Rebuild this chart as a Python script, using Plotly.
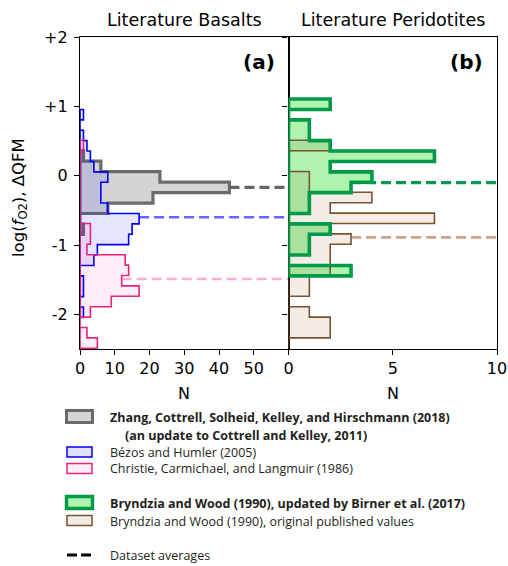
import numpy as np
import plotly.graph_objects as go

# ---------------------------------------------------------------------------
# Histogram data: log(fO2) relative to QFM.  Counts are listed from the
# highest bin downwards; each series is described by its top bin edge,
# its bin width and its counts.
# ---------------------------------------------------------------------------
zhang_top = 0.36
zhang_bin = 0.151
zhang_counts = [1, 6, 23, 43, 21, 8, 0, 1]

bezos_top = 0.955
bezos_bin = 0.15
bezos_counts = [1, 0, 1, 2, 3, 4, 8, 6, 6, 8, 17, 15, 14, 5, 4, 0, 1, 1, 0, 1]

christie_top = 0.51
christie_bin = 0.15
christie_counts = [1, 0, 0, 0, 0, 0, 0, 0, 3, 3, 2, 13, 14, 12, 17, 9, 3, 0, 2, 5]

birner_top = 1.105
birner_bin = 0.15
birner_counts = [2, 0, 1, 1, 2, 7, 2, 4, 3, 1, 1, 0, 2, 1, 1, 0, 3]

bw_top = 0.51
bw_bin = 0.15
bw_counts = [2, 0, 0, 1, 1, 4, 2, 7, 2, 3, 2, 2, 2, 1, 1, 0, 1, 2, 2, 0]

# dataset averages
zhang_mean = -0.17
bezos_mean = -0.60
christie_mean = -1.49
birner_mean = -0.10
bw_mean = -0.89

y_ticks = [-2, -1, 0, 1, 2]
y_tick_labels = ["-2", "-1", "0", "+1", "+2"]
xa_ticks = [0, 10, 20, 30, 40, 50]
xb_ticks = [0, 5, 10]

panel_titles = ["Literature Basalts", "Literature Peridotites"]
panel_tags = ["(a)", "(b)"]

legend_labels = [
    "<b>Zhang, Cottrell, Solheid, Kelley, and Hirschmann (2018)</b>",
    "<b>(an update to Cottrell and Kelley, 2011)</b>",
    "Bézos and Humler (2005)",
    "Christie, Carmichael, and Langmuir (1986)",
    "<b>Bryndzia and Wood (1990), updated by Birner et al. (2017)</b>",
    "Bryndzia and Wood (1990), original published values",
    "Dataset averages",
]

# ---------------------------------------------------------------------------
# styling
# ---------------------------------------------------------------------------
W, H = 508, 566
L, R, T, B = 80, 497, 37, 349          # plot area in pixels
AX_FONT = "DejaVu Sans"
LEG_FONT = "Open Sans"

C_GRAY, F_GRAY = "#6b6b6b", "#d4d4d4"
C_BLUE, F_BLUE = "#0000ff", "rgba(0,0,255,0.10)"
C_PINK, F_PINK = "#e8247a", "rgba(255,20,147,0.07)"
C_GREEN, F_GREEN = "#009a48", "rgba(144,238,144,0.72)"
C_BROWN, F_BROWN = "#7a5230", "rgba(139,69,19,0.10)"


def step_outline(top, width, counts):
    """Closed step outline of a horizontal histogram."""
    edges = top - width * np.arange(len(counts) + 1)
    xs, ys = [0.0], [edges[0]]
    for i, c in enumerate(counts):
        xs += [c, c]
        ys += [edges[i], edges[i + 1]]
    xs += [0.0, 0.0]
    ys += [edges[-1], edges[0]]
    return xs, ys


def count_at(top, width, counts, value):
    idx = int((top - value) // width)
    return counts[idx]


def hist_trace(top, width, counts, line_color, fill_color, lw, xa, ya,
               fill=True, line=True):
    xs, ys = step_outline(top, width, counts)
    return go.Scatter(
        x=xs, y=ys, mode="lines", xaxis=xa, yaxis=ya,
        fill="toself" if fill else "none",
        fillcolor=fill_color if fill else None,
        line=dict(color=line_color if line else "rgba(0,0,0,0)",
                  width=lw if line else 0),
        hoverinfo="skip", showlegend=False,
    )


def mean_trace(top, width, counts, mean, xmax, color, lw, xa, ya):
    x0 = count_at(top, width, counts, mean)
    return go.Scatter(
        x=[x0, xmax], y=[mean, mean], mode="lines", xaxis=xa, yaxis=ya,
        line=dict(color=color, width=lw, dash="10px,5px"),
        hoverinfo="skip", showlegend=False,
    )


XA_MAX, XB_MAX = 60, 10

fig = go.Figure()

# panel (a): literature basalts
fig.add_trace(hist_trace(zhang_top, zhang_bin, zhang_counts, C_GRAY, F_GRAY, 3.2, "x", "y"))
fig.add_trace(hist_trace(bezos_top, bezos_bin, bezos_counts, C_BLUE, F_BLUE, 1.6, "x", "y"))
fig.add_trace(hist_trace(christie_top, christie_bin, christie_counts, C_PINK, F_PINK, 1.6, "x", "y"))
fig.add_trace(mean_trace(zhang_top, zhang_bin, zhang_counts, zhang_mean, XA_MAX, "#666666", 3.2, "x", "y"))
fig.add_trace(mean_trace(bezos_top, bezos_bin, bezos_counts, bezos_mean, XA_MAX, "rgba(0,0,255,0.6)", 2.6, "x", "y"))
fig.add_trace(mean_trace(christie_top, christie_bin, christie_counts, christie_mean, XA_MAX, "rgba(255,105,180,0.55)", 2.6, "x", "y"))

# panel (b): literature peridotites
fig.add_trace(hist_trace(birner_top, birner_bin, birner_counts, C_GREEN, F_GREEN, 3.6, "x2", "y2", line=False))
fig.add_trace(hist_trace(bw_top, bw_bin, bw_counts, C_BROWN, F_BROWN, 1.6, "x2", "y2"))
fig.add_trace(hist_trace(birner_top, birner_bin, birner_counts, C_GREEN, F_GREEN, 3.6, "x2", "y2", fill=False))
fig.add_trace(mean_trace(birner_top, birner_bin, birner_counts, birner_mean, XB_MAX, C_GREEN, 3.2, "x2", "y2"))
fig.add_trace(mean_trace(bw_top, bw_bin, bw_counts, bw_mean, XB_MAX, "rgba(170,100,60,0.6)", 2.6, "x2", "y2"))

axis_common = dict(
    showgrid=False, zeroline=False, showline=True, linecolor="black",
    linewidth=1.3, mirror=True, ticks="outside", ticklen=5, tickwidth=1.3,
    tickcolor="black", layer="below traces", automargin=False,
    tickfont=dict(family=AX_FONT, size=16, color="black"),
)

fig.update_layout(
    template="none",
    width=W, height=H,
    margin=dict(l=L, r=W - R, t=T, b=H - B, pad=0),
    paper_bgcolor="white", plot_bgcolor="white",
    showlegend=False,
    xaxis=dict(domain=[0, 0.5], range=[0, XA_MAX], tickvals=xa_ticks, anchor="y", **axis_common),
    xaxis2=dict(domain=[0.5, 1], range=[0, XB_MAX], tickvals=xb_ticks, anchor="y2", **axis_common),
    yaxis=dict(range=[-2.5, 2], tickvals=y_ticks, ticktext=y_tick_labels, anchor="x",
               ticklabelstandoff=3, **axis_common),
    yaxis2=dict(range=[-2.5, 2], tickvals=y_ticks, showticklabels=False, anchor="x2",
                matches="y", **axis_common),
)

pw, ph = R - L, B - T


def px(x):
    return (x - L) / pw


def py(y):
    return (B - y) / ph


ann = []
# panel titles and tags
for i, (title, tag) in enumerate(zip(panel_titles, panel_tags)):
    cx = 0.25 + 0.5 * i
    ann.append(dict(text=title, x=cx, y=py(20.5), xref="paper", yref="paper",
                    showarrow=False, xanchor="center", yanchor="middle",
                    font=dict(family=AX_FONT, size=17.5, color="black")))
    ann.append(dict(text=f"<b>{tag}</b>", x=0.5 * (i + 1) - px(L + 12), y=py(61.5),
                    xref="paper", yref="paper", showarrow=False,
                    xanchor="right", yanchor="middle",
                    font=dict(family=AX_FONT, size=20, color="black")))
    ann.append(dict(text="N", x=cx, y=py(393), xref="paper", yref="paper",
                    showarrow=False, xanchor="center", yanchor="middle",
                    font=dict(family=AX_FONT, size=16, color="black")))

# y-axis label
ann.append(dict(text="log(<i>f</i><sub>O2</sub>), ΔQFM", x=px(20), y=py(198),
                xref="paper", yref="paper", showarrow=False, textangle=-90,
                xanchor="center", yanchor="middle",
                font=dict(family=AX_FONT, size=16.5, color="black")))

# legend block
shapes = []
legend_rows = [
    # (text y, text x, patch: (edge, fill, width, y0, y1, x0, x1) / None / "dash")
    (417, 108, (C_GRAY, F_GRAY, 3.0, 410.5, 422.5, 66.5, 92.5)),
    (435, 123, None),
    (452, 108, (C_BLUE, "rgba(0,0,255,0.12)", 1.5, 447, 457, 67, 92)),
    (468.5, 108, (C_PINK, "rgba(255,20,147,0.07)", 1.5, 463.5, 473.5, 67, 92)),
    (503, 108, (C_GREEN, F_GREEN, 3.4, 496.5, 508.5, 66.5, 92.5)),
    (521, 108, (C_BROWN, F_BROWN, 1.5, 515.5, 525.5, 67, 92)),
    (555, 108, "dash"),
]
for label, (ty, tx, patch) in zip(legend_labels, legend_rows):
    ann.append(dict(text=label, x=px(tx), y=py(ty), xref="paper", yref="paper",
                    showarrow=False, xanchor="left", yanchor="middle",
                    font=dict(family=LEG_FONT, size=12.5, color="#231f20")))
    if patch == "dash":
        shapes.append(dict(type="line", xref="paper", yref="paper",
                           x0=px(67), x1=px(92), y0=py(ty), y1=py(ty),
                           line=dict(color="black", width=3, dash="10px,4px")))
    elif patch is not None:
        edge, fillc, lw, y0, y1, x0, x1 = patch
        shapes.append(dict(type="rect", xref="paper", yref="paper",
                           x0=px(x0), x1=px(x1), y0=py(y1), y1=py(y0),
                           fillcolor=fillc, line=dict(color=edge, width=lw)))

fig.update_layout(annotations=ann, shapes=shapes)

fig.write_html("out.html")
